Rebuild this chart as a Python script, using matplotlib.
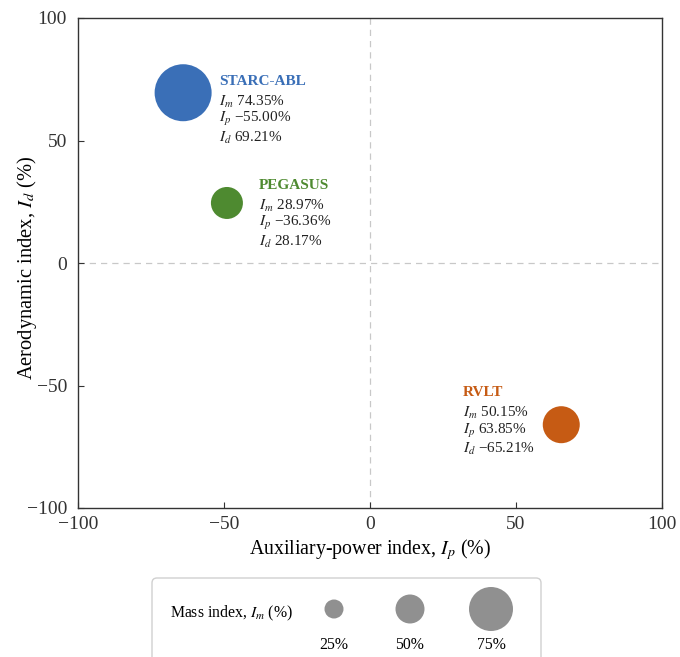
import matplotlib
matplotlib.use("Agg")
import matplotlib.pyplot as plt
from matplotlib.patches import FancyBboxPatch

plt.rcParams['font.family'] = ['Liberation Serif', 'DejaVu Serif']
plt.rcParams['mathtext.fontset'] = 'stix'

# ====================== data ======================
names = ["STARC-ABL", "PEGASUS", "RVLT"]
x_pos = [-64.0, -49.0, 65.5]          # bubble positions
y_pos = [69.5, 24.5, -66.0]
im_vals = ["74.35%", "28.97%", "50.15%"]
ip_vals = ["\u221255.00%", "\u221236.36%", "63.85%"]
id_vals = ["69.21%", "28.17%", "\u221265.21%"]
legend_levels = [25, 50, 75]
ticks = [-100, -50, 0, 50, 100]

# ====================== style ======================
colors = ["#3A6FB7", "#4E8A30", "#C65B14"]
bubble_px = [57, 32, 37]              # marker diameters, pixels
legend_px = [19, 29, 44]
DPI = 100
def px2s(d):
    return (d * 72.0 / DPI) ** 2

# text offsets (points) relative to bubble centre: (dx, dy_title)
offsets = [(26, 8, "left"), (23, 12.5, "left"), (-71, 23, "left")]

fig = plt.figure(figsize=(6.8, 6.57), dpi=DPI)
ax = fig.add_axes([78/680, 1-508/657, (662-78)/680, (508-18)/657])

ax.axhline(0, color="#c8c8c8", lw=0.9, ls=(0, (5, 4)), zorder=1)
ax.axvline(0, color="#c8c8c8", lw=0.9, ls=(0, (5, 4)), zorder=1)

ax.scatter(x_pos, y_pos, s=[px2s(d) for d in bubble_px], c=colors,
           edgecolors="none", zorder=3)

for i in range(len(names)):
    dx, dy, ha = offsets[i]
    ax.annotate(names[i], (x_pos[i], y_pos[i]), xytext=(dx, dy),
                textcoords="offset points", ha=ha, va="center",
                fontsize=11, fontweight="bold", color=colors[i])
    block = ("$I_m$ " + im_vals[i] + "\n$I_p$ " + ip_vals[i] + "\n$I_d$ " + id_vals[i])
    ax.annotate(block, (x_pos[i], y_pos[i]), xytext=(dx, dy - 8.5),
                textcoords="offset points", ha=ha, va="top",
                fontsize=11, color="#222222", linespacing=1.08)

ax.set_xlim(-100, 100)
ax.set_ylim(-100, 100)
ax.set_xticks(ticks)
ax.set_yticks(ticks)
ax.set_xticklabels([str(t).replace("-", "\u2212") for t in ticks])
ax.set_yticklabels([str(t).replace("-", "\u2212") for t in ticks])
ax.tick_params(direction="in", length=4, width=0.8, labelsize=14,
               colors="#333333")
ax.tick_params(axis="x", pad=6)
ax.tick_params(axis="y", pad=8)
for sp in ax.spines.values():
    sp.set_color("#333333")
    sp.set_linewidth(1.0)
ax.set_xlabel("Auxiliary-power index, $I_p$ (%)", fontsize=14.3, labelpad=3)
ax.set_ylabel("Aerodynamic index, $I_d$ (%)", fontsize=14.8)
ax.yaxis.set_label_coords(-0.066, 0.49)

# ====================== size legend ======================
lax = fig.add_axes([0, 0, 1, 1], facecolor="none")
lax.set_xlim(0, 680)
lax.set_ylim(657, 0)
lax.axis("off")
box = FancyBboxPatch((152, 578), 541 - 152, 100,
                     boxstyle="round,pad=0,rounding_size=5",
                     facecolor="white", edgecolor="#d0d0d0", lw=1.0,
                     clip_on=False, zorder=0)
lax.add_patch(box)
lax.text(170, 613, "Mass index, $I_m$ (%)", fontsize=11.3,
         ha="left", va="center", zorder=2)
lx = [334, 410, 491]
lax.scatter(lx, [609] * 3, s=[px2s(d) for d in legend_px], c="#909090",
            edgecolors="none", zorder=2)
for x, lev in zip(lx, legend_levels):
    lax.text(x, 645, f"{lev}%", fontsize=11.3, ha="center", va="center", zorder=2)

fig.savefig("out.png", dpi=DPI)
